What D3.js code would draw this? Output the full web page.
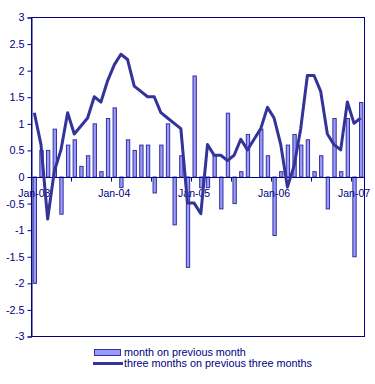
<!DOCTYPE html>
<html>
<head>
<meta charset="utf-8">
<script src="https://cdn.jsdelivr.net/npm/d3@7"></script>
<style>
  body { margin: 0; background: #fff; }
  text { font-family: Arial, "Liberation Sans", sans-serif; fill: #000080; }
</style>
</head>
<body>
<div class="canvas"></div>
<script>
// months Jan-03 .. Feb-07
const months = [
  'Jan-03','Feb-03','Mar-03','Apr-03','May-03','Jun-03','Jul-03','Aug-03','Sep-03','Oct-03','Nov-03','Dec-03',
  'Jan-04','Feb-04','Mar-04','Apr-04','May-04','Jun-04','Jul-04','Aug-04','Sep-04','Oct-04','Nov-04','Dec-04',
  'Jan-05','Feb-05','Mar-05','Apr-05','May-05','Jun-05','Jul-05','Aug-05','Sep-05','Oct-05','Nov-05','Dec-05',
  'Jan-06','Feb-06','Mar-06','Apr-06','May-06','Jun-06','Jul-06','Aug-06','Sep-06','Oct-06','Nov-06','Dec-06',
  'Jan-07','Feb-07'
];

// month on previous month (bars)
const monthOnMonth = [
  -2.0, 0.5, 0.5, 0.9, -0.7, 0.6, 0.7, 0.2, 0.4, 1.0, 0.1, 1.1,
  1.3, -0.2, 0.7, 0.5, 0.6, 0.6, -0.3, 0.6, 1.0, -0.9, 0.4, -1.7,
  1.9, -0.2, -0.2, 0.4, -0.6, 1.2, -0.5, 0.1, 0.8, 0, 0.9, 0.4,
  -1.1, 0.1, 0.6, 0.8, 0.6, 0.7, 0.1, 0.4, -0.6, 1.1, 0.1, 1.1,
  -1.5, 1.4
];

// three months on previous three months (line)
const threeOnThree = [
  1.2, 0.6, -0.8, 0.1, 0.5, 1.2, 0.8, 0.95, 1.1, 1.5, 1.4, 1.8,
  2.1, 2.3, 2.2, 1.7, 1.6, 1.5, 1.5, 1.2, 1.1, 1.0, 0.9, -0.5,
  -0.5, -0.7, 0.6, 0.4, 0.4, 0.3, 0.4, 0.7, 0.5, 0.7, 0.9, 1.3,
  1.1, 0.6, -0.2, 0.2, 0.9, 1.9, 1.9, 1.6, 0.8, 0.6, 0.5, 1.4,
  1.0, 1.1
];

const xLabels = ['Jan-03','Jan-04','Jan-05','Jan-06','Jan-07'];
const yTicks = [3, 2.5, 2, 1.5, 1, 0.5, 0, -0.5, -1, -1.5, -2, -2.5, -3];

const legendLabels = ['month on previous month', 'three months on previous three months'];

const dims = {width: 375, height: 384};
const plot = {left: 31, right: 364, top: 17, bottom: 336};

const navy = '#000080';
const barFill = '#9999ff';
const dark = '#333399';

const svg = d3.select('.canvas')
  .append('svg')
  .attr('width', dims.width)
  .attr('height', dims.height);

const x = d3.scaleBand()
  .domain(months)
  .range([plot.left, plot.right])
  .paddingInner(0.5)
  .paddingOuter(0.25);

const y = d3.scaleLinear()
  .domain([-3, 3])
  .range([plot.bottom, plot.top]);

// plot area border
svg.append('rect')
  .attr('x', plot.left + 0.5)
  .attr('y', plot.top + 0.5)
  .attr('width', plot.right - plot.left)
  .attr('height', plot.bottom - plot.top)
  .attr('fill', '#fff')
  .attr('stroke', navy)
  .attr('stroke-width', 1);

// y axis
const yAxis = svg.append('g')
  .attr('transform', `translate(${plot.left + 0.5}, 0.5)`)
  .call(d3.axisLeft(y)
    .tickValues(yTicks)
    .tickFormat(d => String(d))
    .tickSize(4)
    .tickPadding(3));

yAxis.select('.domain').attr('stroke', navy);
yAxis.selectAll('.tick line').attr('stroke', navy);
yAxis.selectAll('text')
  .attr('fill', navy)
  .style('font-size', '10.8px')
  .style('font-family', 'Arial, "Liberation Sans", sans-serif');

// bars
svg.selectAll('.bar')
  .data(monthOnMonth)
  .enter()
  .append('rect')
    .classed('bar', true)
    .attr('x', (d, i) => x(months[i]) + 0.5)
    .attr('y', d => y(Math.max(0, d)) + 0.5)
    .attr('width', x.bandwidth())
    .attr('height', d => Math.abs(y(d) - y(0)))
    .attr('fill', barFill)
    .attr('stroke', dark)
    .attr('stroke-width', 1)
    .style('display', d => d === 0 ? 'none' : null);

// zero axis line + ticks every 6 months
const y0 = Math.round(y(0)) + 0.5;
svg.append('line')
  .attr('x1', plot.left)
  .attr('x2', plot.right)
  .attr('y1', y0)
  .attr('y2', y0)
  .attr('stroke', navy);

const step = x.step();
svg.selectAll('.xtick')
  .data(d3.range(6, months.length + 1, 6))
  .enter()
  .append('line')
    .classed('xtick', true)
    .attr('x1', i => Math.round(plot.left + i * step) + 0.5)
    .attr('x2', i => Math.round(plot.left + i * step) + 0.5)
    .attr('y1', y0)
    .attr('y2', y0 + 4)
    .attr('stroke', navy);

svg.selectAll('.xlabel')
  .data(xLabels)
  .enter()
  .append('text')
    .classed('xlabel', true)
    .attr('x', d => x(d) + x.bandwidth() / 2)
    .attr('y', y(0) + 20)
    .attr('text-anchor', 'middle')
    .style('font-size', '10.5px')
    .text(d => d);

// three month line
const line = d3.line()
  .x((d, i) => x(months[i]) + x.bandwidth() / 2)
  .y(d => y(d));

svg.append('path')
  .datum(threeOnThree)
  .attr('fill', 'none')
  .attr('stroke', dark)
  .attr('stroke-width', 3)
  .attr('stroke-linejoin', 'round')
  .attr('d', line);

// legend
const legend = svg.append('g')
  .attr('transform', 'translate(93, 349)');

legend.append('rect')
  .attr('x', 1.5)
  .attr('y', 0.5)
  .attr('width', 26)
  .attr('height', 6)
  .attr('fill', barFill)
  .attr('stroke', dark);

legend.append('line')
  .attr('x1', 0)
  .attr('x2', 30)
  .attr('y1', 14.5)
  .attr('y2', 14.5)
  .attr('stroke', dark)
  .attr('stroke-width', 3);

legend.selectAll('.legtext')
  .data(legendLabels)
  .enter()
  .append('text')
    .classed('legtext', true)
    .attr('x', 31)
    .attr('y', (d, i) => 7 + i * 11)
    .style('font-size', '10.8px')
    .text(d => d);
</script>
</body>
</html>
